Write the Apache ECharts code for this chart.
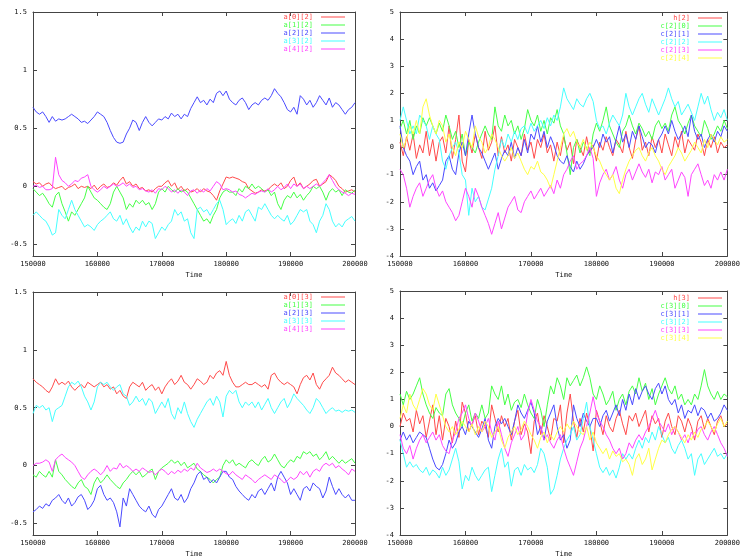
<!DOCTYPE html>
<html><head><meta charset="utf-8">
<script src="https://cdn.jsdelivr.net/npm/echarts@6/dist/echarts.min.js"></script>
<style>html,body{margin:0;padding:0;background:#fff}#c{width:743px;height:559px}</style>
</head><body><div id="c"></div>
<script>
const times = [150000,150500,151000,151500,152000,152500,153000,153500,154000,154500,
155000,155500,156000,156500,157000,157500,158000,158500,159000,159500,
160000,160500,161000,161500,162000,162500,163000,163500,164000,164500,
165000,165500,166000,166500,167000,167500,168000,168500,169000,169500,
170000,170500,171000,171500,172000,172500,173000,173500,174000,174500,
175000,175500,176000,176500,177000,177500,178000,178500,179000,179500,
180000,180500,181000,181500,182000,182500,183000,183500,184000,184500,
185000,185500,186000,186500,187000,187500,188000,188500,189000,189500,
190000,190500,191000,191500,192000,192500,193000,193500,194000,194500,
195000,195500,196000,196500,197000,197500,198000,198500,199000,199500,
200000];
const xTicks = [150000,160000,170000,180000,190000,200000];
const yTicksLeft = [-0.5,0,0.5,1,1.5];
const yTicksRight = [-4,-3,-2,-1,0,1,2,3,4,5];

// top-left: a[i][2]
const a02 = [0.04,0.02,0.03,0.00,0.02,0.03,0.00,-0.02,-0.01,0.00,
-0.03,-0.01,0.00,0.02,-0.02,0.00,-0.01,0.00,-0.02,0.01,
-0.03,0.00,0.02,-0.01,0.00,0.03,0.01,0.05,0.08,0.02,
0.04,0.00,0.02,-0.02,-0.01,-0.04,-0.03,-0.05,-0.02,0.00,
0.00,0.03,0.05,0.00,0.03,-0.03,0.00,-0.04,-0.02,-0.05,
-0.04,-0.02,-0.05,-0.02,-0.04,-0.05,-0.08,-0.12,-0.04,0.02,
0.08,0.07,0.08,0.07,0.06,0.04,0.03,-0.02,-0.04,-0.06,
-0.05,-0.03,-0.04,-0.03,0.00,0.02,0.00,0.03,-0.02,0.00,
0.05,0.08,0.00,0.03,-0.02,0.00,0.02,0.05,0.06,0.00,
0.02,0.04,0.10,0.08,0.05,0.00,-0.02,-0.05,-0.04,-0.03,
-0.05];
const a12 = [-0.02,-0.05,-0.08,-0.06,-0.10,-0.15,-0.18,-0.08,-0.05,-0.15,
-0.22,-0.30,-0.22,-0.25,-0.20,-0.15,-0.10,0.00,-0.05,-0.10,
-0.12,-0.15,-0.18,-0.20,-0.15,-0.05,0.00,-0.05,-0.10,-0.20,
-0.15,-0.18,-0.12,-0.15,-0.12,-0.16,-0.14,-0.20,-0.15,-0.05,
-0.02,-0.05,0.00,-0.03,-0.05,-0.02,-0.05,-0.03,-0.05,-0.10,
-0.15,-0.20,-0.25,-0.30,-0.28,-0.32,-0.25,-0.20,-0.10,-0.05,
-0.03,-0.05,-0.05,-0.08,-0.02,-0.05,0.00,-0.02,0.02,-0.02,
0.00,-0.02,-0.05,-0.03,-0.08,-0.05,-0.15,-0.20,-0.12,-0.08,
-0.10,-0.05,-0.10,-0.07,-0.12,-0.08,-0.05,0.00,-0.02,0.00,
-0.05,-0.12,-0.05,-0.02,-0.05,-0.03,-0.08,-0.03,-0.05,-0.06,
-0.03];
const a22 = [0.68,0.64,0.62,0.64,0.60,0.55,0.60,0.56,0.58,0.57,
0.58,0.60,0.62,0.60,0.58,0.55,0.56,0.54,0.57,0.60,
0.64,0.62,0.60,0.55,0.48,0.42,0.38,0.37,0.38,0.45,
0.50,0.57,0.55,0.48,0.55,0.60,0.55,0.52,0.55,0.58,
0.57,0.60,0.58,0.63,0.60,0.62,0.58,0.62,0.60,0.67,
0.72,0.77,0.72,0.74,0.70,0.75,0.72,0.80,0.82,0.78,
0.82,0.75,0.72,0.70,0.74,0.76,0.72,0.66,0.70,0.72,
0.70,0.74,0.76,0.74,0.78,0.84,0.80,0.77,0.72,0.66,
0.64,0.68,0.62,0.78,0.75,0.70,0.74,0.68,0.72,0.78,
0.74,0.70,0.76,0.68,0.72,0.70,0.66,0.62,0.66,0.68,
0.72];
const a32 = [-0.25,-0.22,-0.25,-0.28,-0.30,-0.35,-0.42,-0.40,-0.20,-0.25,
-0.28,-0.20,-0.12,-0.20,-0.25,-0.30,-0.35,-0.33,-0.35,-0.38,
-0.33,-0.30,-0.28,-0.25,-0.22,-0.28,-0.30,-0.25,-0.33,-0.28,
-0.35,-0.40,-0.35,-0.38,-0.30,-0.35,-0.30,-0.32,-0.45,-0.40,
-0.35,-0.38,-0.33,-0.30,-0.20,-0.25,-0.22,-0.30,-0.28,-0.40,
-0.45,-0.20,-0.18,-0.22,-0.20,-0.25,-0.20,-0.15,-0.12,-0.20,
-0.33,-0.30,-0.28,-0.32,-0.25,-0.30,-0.22,-0.20,-0.25,-0.30,
-0.18,-0.20,-0.15,-0.20,-0.25,-0.28,-0.25,-0.28,-0.30,-0.25,
-0.33,-0.30,-0.25,-0.20,-0.22,-0.20,-0.30,-0.33,-0.40,-0.30,
-0.25,-0.15,-0.20,-0.30,-0.35,-0.32,-0.35,-0.30,-0.28,-0.26,
-0.30];
const a42 = [0.00,0.01,-0.01,0.00,-0.03,-0.03,-0.02,0.25,0.10,0.05,
0.03,0.00,0.02,0.05,0.04,0.07,0.08,0.10,0.00,-0.03,
-0.05,-0.03,0.00,-0.02,0.00,0.02,0.00,0.01,0.03,0.00,
0.02,-0.01,0.00,-0.03,-0.02,-0.04,-0.05,-0.03,-0.06,-0.02,
-0.03,0.00,-0.02,-0.05,-0.03,-0.06,-0.03,-0.05,-0.08,-0.04,
-0.03,-0.06,-0.03,-0.05,-0.02,-0.04,0.00,0.04,0.02,-0.03,
-0.02,-0.03,-0.05,-0.04,-0.07,-0.08,-0.10,-0.08,-0.06,-0.07,
-0.05,-0.04,-0.05,-0.02,-0.05,-0.03,0.00,-0.03,-0.01,0.02,
-0.02,0.02,0.00,0.02,-0.02,0.00,-0.02,0.00,0.02,0.00,
0.03,0.06,0.10,0.05,0.00,-0.03,-0.05,-0.06,-0.08,-0.06,
-0.07];

// top-right: h[2], c[2][j]
const h2 = [0.2,-0.3,0.4,-0.1,0.5,-0.4,0.1,-0.2,0.6,-0.3,
0.3,-0.5,0.2,0.4,-0.2,0.8,-0.4,0.3,1.2,-0.5,
-0.9,0.3,-0.2,0.5,0.0,-0.4,0.6,-0.1,0.2,0.8,
-0.3,0.4,-0.2,0.1,-0.5,0.3,0.0,-0.3,0.5,-0.1,
0.2,-0.4,0.3,0.0,0.5,-0.2,0.1,-0.5,0.2,-0.3,
0.4,-0.1,0.2,-0.6,0.3,0.0,-0.3,0.4,-0.2,0.1,
-0.5,0.2,-0.1,0.4,0.0,-0.3,0.3,0.1,-0.2,0.6,
0.0,-0.4,0.3,0.8,-0.1,0.2,-0.3,0.4,0.0,0.3,
-0.2,0.5,0.1,-0.3,0.4,0.0,0.6,-0.2,0.3,0.1,
-0.1,0.5,0.2,-0.3,0.3,0.0,0.4,-0.2,0.2,0.0,
0.1];
const c20 = [0.7,1.0,0.5,1.0,0.3,0.8,0.5,1.1,0.8,1.1,
0.8,0.5,0.9,0.6,1.2,0.8,0.3,0.6,0.0,0.5,
-0.3,0.2,0.0,-0.2,0.2,0.5,0.8,0.5,0.3,1.5,
0.8,0.6,1.2,0.8,1.0,0.5,0.8,0.3,0.7,1.4,
1.0,0.8,1.2,0.6,1.0,0.5,1.1,0.9,1.4,0.8,
0.5,-0.2,-1.0,0.0,0.3,-0.2,0.2,0.0,-0.3,0.5,
0.9,0.6,1.0,1.5,0.8,0.5,0.2,0.0,0.6,0.8,
1.2,0.8,0.5,0.9,0.7,0.4,0.6,0.3,0.8,1.0,
0.7,0.9,0.6,1.2,1.5,1.0,0.8,0.5,0.9,1.2,
0.8,0.6,0.4,1.0,0.7,0.3,0.5,0.8,0.6,1.0,
0.7];
const c21 = [0.8,0.0,-0.3,-0.5,-1.0,-0.7,-0.5,-1.2,-1.0,-1.5,
-1.3,-1.6,-1.4,-1.2,-0.5,-0.3,-0.8,-1.0,-0.2,0.2,
-0.3,0.5,1.2,0.5,0.0,-0.2,-0.5,-0.8,-0.5,-0.2,
-0.8,-0.4,-0.1,-0.3,0.2,-0.4,0.0,-0.3,0.3,-0.2,
0.5,0.3,0.8,0.2,0.6,0.0,0.4,0.1,-0.3,-0.5,
-0.6,-0.3,-0.7,-0.9,-0.5,-0.8,-0.6,-0.3,-0.1,0.0,
0.3,0.0,0.5,0.2,0.4,-0.2,0.3,0.8,0.2,0.5,
0.0,0.6,0.3,0.8,0.4,0.0,0.2,0.1,-0.2,0.3,
0.5,0.8,0.5,1.0,0.6,0.3,0.5,0.8,0.4,1.2,
0.6,0.3,0.5,0.0,0.3,0.5,0.2,0.6,0.4,0.8,
0.6];
const c22 = [1.0,1.5,1.0,0.5,0.8,0.5,1.2,1.0,0.8,0.3,
0.8,0.5,0.3,-0.5,-0.8,-0.3,0.0,0.2,-0.2,-1.0,
-1.2,-2.5,-1.5,-2.0,-1.8,-2.2,-2.3,-1.9,-1.5,-0.8,
-0.3,0.3,0.0,0.5,0.2,0.6,0.3,0.7,0.8,0.5,
0.9,0.6,0.8,1.0,0.7,1.1,0.8,1.2,1.0,1.5,
2.2,1.8,1.6,1.4,1.8,1.6,1.5,1.8,2.0,1.7,
1.0,0.7,0.8,0.5,0.9,1.2,1.0,0.8,1.2,2.0,
1.5,1.2,1.5,1.8,2.0,1.6,1.3,1.8,1.5,1.2,
1.5,1.8,2.2,1.8,1.5,1.7,1.2,1.4,1.6,1.3,
1.0,1.5,2.0,1.6,1.9,1.4,1.0,1.3,1.1,1.4,
1.0];
const c23 = [-0.8,-1.0,-1.5,-2.2,-1.8,-1.5,-1.3,-1.8,-1.5,-1.2,
-1.0,-1.5,-1.8,-1.6,-2.0,-2.2,-2.4,-2.7,-2.5,-2.0,
-1.5,-1.8,-2.2,-1.5,-1.8,-2.2,-2.5,-2.8,-3.2,-2.8,
-2.4,-3.0,-2.6,-2.2,-2.0,-1.8,-2.3,-2.4,-2.0,-1.8,
-1.6,-1.9,-1.7,-1.5,-1.8,-1.6,-1.4,-1.7,-1.2,-1.5,
-1.0,-0.8,-0.5,-0.3,-0.8,-0.6,-0.5,-0.3,0.0,-0.4,
-1.8,-1.3,-1.0,-0.8,-1.2,-1.0,-0.7,-1.2,-1.5,-1.0,
-0.8,-1.2,-0.9,-0.6,-0.9,-1.1,-0.8,-1.3,-0.9,-1.0,
-0.7,-1.2,-1.0,-0.8,-1.5,-1.2,-0.9,-1.1,-1.8,-1.0,
-0.8,-0.6,-1.0,-1.4,-1.2,-1.5,-1.0,-1.2,-0.9,-1.2,
-0.8];
const c24 = [0.5,0.0,0.3,0.8,0.5,1.0,0.5,1.5,1.8,1.2,
0.8,0.5,1.0,0.8,0.2,0.5,0.0,-0.3,0.2,0.0,
0.6,0.3,0.0,0.8,0.4,0.2,-0.2,0.0,0.5,0.3,
0.0,-0.3,-0.5,-0.3,0.0,-0.4,-0.2,-0.5,-0.8,-1.0,
-0.7,-0.8,-0.5,-0.9,-1.0,-1.2,-1.5,-1.0,-0.5,0.0,
0.5,0.7,0.4,0.6,0.2,0.0,0.3,-0.1,0.2,0.0,
-0.3,-0.5,-0.8,-1.0,-1.2,-1.0,-1.5,-1.7,-1.2,-0.8,
-0.5,-0.3,-0.1,0.0,-0.3,-0.5,-0.2,0.0,-0.3,-0.5,
-0.8,-1.0,-0.7,-0.5,-0.3,0.0,-0.2,-0.5,-0.3,-0.1,
0.2,0.0,-0.2,0.3,0.0,0.5,0.3,0.1,0.4,0.2,
0.3];

// bottom-left: a[i][3]
const a03 = [0.75,0.72,0.70,0.68,0.65,0.63,0.68,0.75,0.70,0.72,
0.70,0.73,0.68,0.65,0.68,0.70,0.67,0.72,0.70,0.68,
0.70,0.72,0.68,0.70,0.66,0.68,0.62,0.65,0.60,0.58,
0.68,0.72,0.70,0.68,0.72,0.65,0.68,0.70,0.65,0.68,
0.62,0.68,0.72,0.75,0.70,0.73,0.78,0.72,0.70,0.66,
0.70,0.75,0.73,0.70,0.72,0.78,0.75,0.80,0.82,0.78,
0.90,0.78,0.72,0.68,0.68,0.70,0.72,0.70,0.70,0.72,
0.70,0.68,0.70,0.66,0.78,0.80,0.75,0.72,0.70,0.72,
0.70,0.68,0.62,0.70,0.76,0.78,0.74,0.80,0.70,0.66,
0.72,0.75,0.78,0.85,0.80,0.78,0.75,0.72,0.74,0.72,
0.70];
const a13 = [-0.08,-0.10,-0.05,-0.08,-0.10,-0.05,-0.10,0.05,-0.05,-0.08,
-0.12,-0.15,-0.18,-0.20,-0.15,-0.12,-0.18,-0.20,-0.25,-0.15,
-0.10,-0.15,-0.12,-0.08,-0.12,-0.15,-0.18,-0.20,-0.15,-0.12,
-0.08,-0.05,-0.08,-0.05,-0.10,-0.08,-0.05,-0.03,-0.12,-0.05,
-0.02,0.00,0.02,0.05,0.02,0.04,0.00,0.03,-0.02,0.00,
0.02,-0.03,-0.05,-0.08,-0.10,-0.12,-0.15,-0.12,-0.10,0.00,
0.05,0.02,0.05,0.00,0.02,0.00,-0.02,0.03,0.05,0.02,
0.00,0.05,0.08,0.03,0.05,0.10,0.05,0.00,-0.02,0.02,
0.05,0.03,0.08,0.06,0.12,0.10,0.12,0.08,0.10,0.05,
0.08,0.12,0.05,0.08,0.05,0.02,0.05,0.02,0.04,0.06,
0.02];
const a23 = [-0.40,-0.38,-0.35,-0.37,-0.33,-0.35,-0.30,-0.28,-0.25,-0.30,
-0.33,-0.28,-0.35,-0.32,-0.27,-0.25,-0.30,-0.38,-0.35,-0.30,
-0.20,-0.17,-0.25,-0.30,-0.28,-0.32,-0.40,-0.53,-0.28,-0.35,
-0.20,-0.25,-0.30,-0.35,-0.38,-0.40,-0.35,-0.42,-0.45,-0.38,
-0.35,-0.30,-0.25,-0.20,-0.28,-0.30,-0.25,-0.32,-0.28,-0.20,
-0.15,-0.08,-0.05,-0.12,-0.10,-0.15,-0.12,-0.15,-0.10,-0.05,
-0.05,-0.10,-0.12,-0.18,-0.22,-0.25,-0.28,-0.30,-0.25,-0.28,
-0.22,-0.20,-0.25,-0.20,-0.15,-0.22,-0.10,-0.05,-0.10,-0.15,
-0.25,-0.20,-0.25,-0.30,-0.20,-0.18,-0.22,-0.15,-0.18,-0.20,
-0.28,-0.22,-0.10,-0.18,-0.25,-0.20,-0.25,-0.28,-0.25,-0.30,
-0.30];
const a33 = [0.45,0.52,0.50,0.52,0.48,0.50,0.38,0.48,0.50,0.52,
0.60,0.68,0.72,0.70,0.73,0.68,0.60,0.55,0.48,0.55,
0.68,0.72,0.70,0.72,0.68,0.65,0.68,0.70,0.62,0.60,
0.52,0.55,0.60,0.55,0.58,0.52,0.58,0.55,0.45,0.50,
0.55,0.50,0.58,0.45,0.40,0.50,0.45,0.55,0.45,0.38,
0.33,0.40,0.45,0.50,0.55,0.58,0.52,0.60,0.55,0.42,
0.60,0.65,0.62,0.65,0.55,0.50,0.55,0.52,0.55,0.50,
0.55,0.48,0.53,0.58,0.50,0.45,0.50,0.55,0.58,0.50,
0.55,0.62,0.58,0.55,0.52,0.48,0.45,0.50,0.58,0.55,
0.50,0.45,0.48,0.50,0.47,0.48,0.46,0.48,0.47,0.48,
0.46];
const a43 = [0.00,0.02,0.02,0.03,0.05,0.03,-0.05,0.05,0.08,0.10,
0.07,0.05,0.03,0.00,-0.05,-0.10,-0.12,-0.08,-0.05,-0.03,
-0.05,-0.08,-0.05,0.00,-0.05,-0.02,-0.03,0.02,-0.02,0.00,
-0.02,-0.05,-0.03,-0.05,-0.02,-0.04,-0.06,-0.05,-0.08,-0.05,
-0.03,-0.05,-0.08,-0.05,-0.07,-0.04,-0.06,-0.03,-0.05,-0.02,
-0.04,0.02,-0.02,-0.04,-0.06,-0.05,-0.03,-0.05,-0.03,-0.05,
-0.07,-0.08,-0.05,-0.08,-0.10,-0.12,-0.08,-0.10,-0.12,-0.15,
-0.12,-0.10,-0.08,-0.10,-0.12,-0.08,-0.10,-0.12,-0.15,-0.13,
-0.10,-0.12,-0.10,-0.05,-0.08,-0.05,-0.10,-0.05,-0.03,-0.05,
0.00,0.02,0.00,0.02,-0.02,0.00,-0.03,-0.05,-0.08,-0.03,
-0.05];

// bottom-right: h[3], c[3][j]
const h3 = [0.0,0.5,0.2,0.3,-0.2,0.6,0.1,0.4,-0.4,0.2,
0.8,-0.3,0.4,-0.5,0.3,0.0,-0.6,0.2,-0.4,0.9,
0.5,-0.2,0.1,0.4,-0.3,0.2,0.0,-0.4,0.8,0.3,
-0.2,0.4,0.0,0.3,-0.5,0.2,0.6,-0.3,0.1,-0.2,
-1.0,0.2,0.5,-0.3,0.4,0.0,-0.5,0.3,0.2,0.8,
-0.6,0.5,1.2,0.2,-0.4,0.3,-0.2,0.5,0.0,-0.9,
0.6,0.2,-0.3,0.4,0.0,-0.2,0.3,0.6,0.1,-0.3,
0.4,0.2,0.5,0.0,0.3,0.6,-0.2,0.4,0.1,0.3,
-0.4,0.2,0.5,0.0,-0.3,0.4,0.2,-0.2,0.3,0.0,
-0.5,0.2,0.4,-0.1,0.3,0.0,-0.3,0.2,0.4,0.0,
0.1];
const c30 = [1.2,0.8,1.3,1.0,1.2,1.5,1.8,1.2,0.8,0.5,
0.3,0.7,0.5,0.4,1.2,1.4,0.8,0.5,0.3,0.0,
0.5,0.8,0.2,0.5,0.3,0.8,0.3,0.5,1.5,1.2,
1.0,1.5,0.8,1.2,0.6,0.9,1.0,0.7,1.2,0.8,
0.5,0.3,1.0,0.6,0.0,0.8,1.5,1.2,1.8,1.5,
1.0,1.8,1.5,1.7,1.9,1.5,1.8,2.2,1.8,1.2,
1.0,1.5,1.2,0.8,1.0,1.3,0.6,1.0,1.2,0.8,
1.3,1.5,1.2,1.8,1.3,1.6,1.0,1.4,0.8,1.2,
1.5,1.8,1.4,1.2,1.5,1.0,1.2,0.8,1.0,0.8,
1.2,1.0,1.5,2.1,1.5,1.2,1.0,1.3,1.0,1.2,
1.1];
const c31 = [-0.5,-0.2,-0.5,-0.3,-0.6,-0.4,-0.2,-0.3,-0.4,-0.8,
-1.2,-1.5,-1.6,-1.4,-1.0,-0.5,-0.8,-0.6,-0.2,0.0,
-0.3,0.2,0.0,-0.2,-0.4,-0.1,0.3,-0.5,-0.8,0.0,
0.3,0.1,0.3,0.0,-0.3,0.2,0.8,0.5,0.3,0.6,
0.9,0.5,-0.3,0.0,-0.5,0.2,0.5,0.8,0.0,-0.5,
-0.3,-0.8,-0.5,0.8,0.3,0.0,0.5,0.2,0.0,0.3,
0.3,0.0,0.4,0.6,0.2,0.5,0.8,0.4,1.0,0.6,
1.2,0.8,1.4,1.0,1.3,1.5,1.2,1.0,1.4,1.6,
1.2,1.5,1.0,0.8,1.0,0.5,0.8,0.3,0.6,0.5,
0.8,0.4,0.7,0.6,0.3,0.5,0.2,0.3,0.5,0.8,
0.6];
const c32 = [-0.5,-1.0,-1.5,-1.3,-1.5,-1.4,-1.6,-1.7,-1.5,-1.8,
-1.6,-1.7,-1.9,-1.5,-1.8,-1.6,-1.2,-0.8,-1.3,-2.3,
-1.8,-2.0,-1.5,-1.8,-2.0,-1.8,-1.6,-1.5,-2.4,-1.8,
-1.2,-0.8,-1.5,-1.3,-2.2,-1.6,-1.5,-1.8,-1.4,-1.6,
-1.5,-1.7,-1.4,-0.8,-1.0,-1.5,-2.5,-2.3,-1.8,-1.2,
-0.8,-0.5,-0.3,0.0,-0.5,-0.3,0.3,0.9,0.0,-0.5,
-1.0,-1.5,-1.7,-1.5,-1.8,-1.6,-1.9,-1.5,-1.0,-1.2,
-1.0,-1.2,-0.8,-0.5,-0.8,-0.4,-0.6,-0.2,-0.5,0.0,
-0.3,-0.6,-0.4,-0.8,-1.0,-0.7,-0.5,-0.8,-1.2,-1.0,
-1.8,-1.2,-1.0,-1.4,-1.2,-1.0,-0.8,-1.1,-1.0,-1.2,
-1.0];
const c33 = [-0.3,-0.8,-1.0,-0.7,-1.2,-0.8,-0.5,-0.3,-0.6,-0.4,
-0.2,-0.5,-0.3,-0.7,-0.9,-1.0,-0.5,-0.2,0.3,0.5,
0.8,0.3,0.0,0.5,0.2,-0.2,0.0,0.3,-0.2,-0.5,
0.2,-0.3,-0.8,-1.1,-0.6,-0.3,0.0,-0.5,-0.3,0.5,
1.0,0.6,0.2,0.0,-0.5,-0.3,-0.6,-0.8,-0.5,-0.3,
-0.8,-1.2,-1.5,-1.8,-1.3,-0.8,-0.5,0.0,0.5,1.1,
0.5,0.2,0.0,-0.3,-0.5,-0.8,-1.0,-0.8,-1.2,-1.0,
-0.6,-0.8,-0.5,-0.3,-0.5,-0.2,0.0,0.3,0.6,0.2,
0.0,-0.2,0.1,-0.3,0.0,-0.2,-0.5,-0.3,-0.6,-0.2,
-0.4,-0.1,0.0,-0.3,-0.5,-0.2,0.0,-0.3,-0.6,-0.8,
-1.1];
const c34 = [0.3,0.8,0.5,1.2,0.8,0.6,1.0,1.4,1.2,0.8,
0.6,1.2,0.8,0.4,0.0,-0.2,0.0,-0.3,-0.1,0.2,
0.0,-0.2,0.1,-0.3,0.0,-0.2,0.2,0.0,-0.4,-0.2,
0.0,-0.5,-0.8,-0.4,-0.2,0.0,-0.3,-0.1,0.2,0.0,
-0.3,-0.5,-0.8,-0.4,-0.2,-0.6,-0.3,-0.5,-0.2,0.0,
-0.2,0.1,-0.1,0.2,0.0,-0.2,-0.3,0.0,-0.5,-0.2,
-0.6,-0.8,-1.0,-0.8,-1.2,-0.9,-1.1,-1.0,-1.3,-1.2,
-1.4,-1.8,-1.2,-1.0,-1.4,-1.2,-0.8,-1.6,-1.2,-0.8,
-0.5,-0.6,-0.3,-0.1,0.0,-0.2,-0.4,-0.6,-0.3,-0.5,
-0.2,-0.4,-0.1,0.0,0.2,0.0,-0.2,0.1,0.3,0.0,
0.2];

const COLORS = {r:'#ff4a4a', g:'#45ff45', b:'#4a4aff', c:'#45ffff', m:'#ff45ff', y:'#ffff45'};
const FONT = 'DejaVu Sans Mono';
const FRAME = '#444';

const panels = [
  {grid:{left:33, top:12, width:322, height:244}, ymin:-0.6, ymax:1.5, yticks:yTicksLeft,
   legendRight:743-345, legendTop:13,
   series:[['a[0][2]',a02,'r'],['a[1][2]',a12,'g'],['a[2][2]',a22,'b'],['a[3][2]',a32,'c'],['a[4][2]',a42,'m']]},
  {grid:{left:400, top:12, width:331, height:244}, ymin:-4, ymax:5, yticks:yTicksRight,
   legendRight:743-722, legendTop:14,
   series:[['h[2]',h2,'r'],['c[2][0]',c20,'g'],['c[2][1]',c21,'b'],['c[2][2]',c22,'c'],['c[2][3]',c23,'m'],['c[2][4]',c24,'y']]},
  {grid:{left:33, top:292, width:322, height:244}, ymin:-0.6, ymax:1.5, yticks:yTicksLeft,
   legendRight:743-345, legendTop:293,
   series:[['a[0][3]',a03,'r'],['a[1][3]',a13,'g'],['a[2][3]',a23,'b'],['a[3][3]',a33,'c'],['a[4][3]',a43,'m']]},
  {grid:{left:400, top:291, width:331, height:244}, ymin:-4, ymax:5, yticks:yTicksRight,
   legendRight:743-722, legendTop:294,
   series:[['h[3]',h3,'r'],['c[3][0]',c30,'g'],['c[3][1]',c31,'b'],['c[3][2]',c32,'c'],['c[3][3]',c33,'m'],['c[3][4]',c34,'y']]}
];

const option = {animation:false, backgroundColor:'#fff', grid:[], xAxis:[], yAxis:[], series:[], legend:[]};
const axisLine = {show:true, onZero:false, lineStyle:{color:FRAME, width:1}};
const labelStyle = {fontFamily:FONT, fontSize:7, color:'#111'};
panels.forEach((p, i) => {
  option.grid.push(Object.assign({containLabel:false}, p.grid));
  const tickCommon = {show:true, inside:true, length:4, lineStyle:{color:FRAME}};
  option.xAxis.push({type:'value', gridIndex:i, min:150000, max:200000, interval:10000, position:'bottom',
    axisLine:axisLine, axisTick:Object.assign({customValues:xTicks}, tickCommon), splitLine:{show:false},
    axisLabel:Object.assign({customValues:xTicks, margin:5, formatter:v => String(v)}, labelStyle),
    name:'Time', nameLocation:'middle', nameGap:16, nameTextStyle:labelStyle});
  option.xAxis.push({type:'value', gridIndex:i, min:150000, max:200000, interval:10000, position:'top',
    axisLine:axisLine, axisTick:Object.assign({customValues:xTicks}, tickCommon), splitLine:{show:false},
    axisLabel:{show:false}});
  option.yAxis.push({type:'value', gridIndex:i, min:p.ymin, max:p.ymax, position:'left',
    axisLine:axisLine, axisTick:Object.assign({customValues:p.yticks}, tickCommon), splitLine:{show:false},
    axisLabel:Object.assign({customValues:p.yticks, margin:6, formatter:v => String(v)}, labelStyle)});
  option.yAxis.push({type:'value', gridIndex:i, min:p.ymin, max:p.ymax, position:'right',
    axisLine:axisLine, axisTick:Object.assign({customValues:p.yticks}, tickCommon), splitLine:{show:false},
    axisLabel:{show:false}});
  const legendData = [];
  p.series.forEach(([name, vals, col]) => {
    const color = COLORS[col];
    option.series.push({type:'line', name:name, xAxisIndex:2*i, yAxisIndex:2*i, showSymbol:false, symbol:'none',
      data: times.map((t, k) => [t, vals[k]]), lineStyle:{color:color, width:1}, itemStyle:{color:color},
      emphasis:{disabled:true}});
    legendData.push({name:name, textStyle:{color:color}});
  });
  option.legend.push({data:legendData, orient:'vertical', align:'right', right:p.legendRight, top:p.legendTop,
    padding:0, itemWidth:24, itemHeight:1, itemGap:0, icon:'rect', selectedMode:false,
    textStyle:{fontFamily:FONT, fontSize:7, lineHeight:8, padding:[0,3,0,0]}});
});
const chart = echarts.init(document.getElementById('c'), null, {renderer:'canvas'});
chart.setOption(option);
</script></body></html>
